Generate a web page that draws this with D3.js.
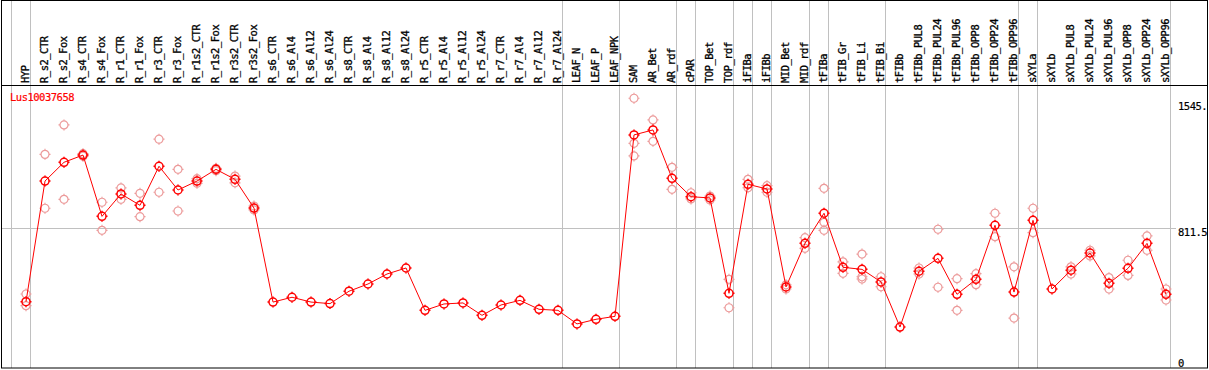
<!DOCTYPE html>
<html>
<head>
<meta charset="utf-8">
<script src="https://cdn.jsdelivr.net/npm/d3@7"></script>
<style>
  body { margin: 0; background: #fff; }
  text { font-family: "DejaVu Sans Mono", monospace; }
</style>
</head>
<body>
<div id="chart"></div>
<script>
// sample names along the x axis
const samples = ['HYP', 'R_s2_CTR', 'R_s2_Fox', 'R_s4_CTR', 'R_s4_Fox', 'R_r1_CTR', 'R_r1_Fox',
  'R_r3_CTR', 'R_r3_Fox', 'R_r1s2_CTR', 'R_r1s2_Fox', 'R_r3s2_CTR', 'R_r3s2_Fox',
  'R_s6_CTR', 'R_s6_Al4', 'R_s6_Al12', 'R_s6_Al24', 'R_s8_CTR', 'R_s8_Al4', 'R_s8_Al12', 'R_s8_Al24',
  'R_r5_CTR', 'R_r5_Al4', 'R_r5_Al12', 'R_r5_Al24', 'R_r7_CTR', 'R_r7_Al4', 'R_r7_Al12', 'R_r7_Al24',
  'LEAF_N', 'LEAF_P', 'LEAF_NPK', 'SAM', 'AR_Bet', 'AR_rdf', 'cPAR', 'TOP_Bet', 'TOP_rdf',
  'iFIBa', 'iFIBb', 'MID_Bet', 'MID_rdf', 'tFIBa', 'tFIB_Gr', 'tFIB_Li', 'tFIB_Bi', 'tFIBb',
  'tFIBb_PUL8', 'tFIBb_PUL24', 'tFIBb_PUL96', 'tFIBb_OPP8', 'tFIBb_OPP24', 'tFIBb_OPP96',
  'sXYLa', 'sXYLb', 'sXYLb_PUL8', 'sXYLb_PUL24', 'sXYLb_PUL96', 'sXYLb_OPP8', 'sXYLb_OPP24', 'sXYLb_OPP96'];

// mean expression per sample
const means = [385, 1086, 1195, 1237, 881, 1011, 945, 1172, 1034, 1086, 1154, 1096, 929,
  383, 411, 383, 374, 446, 488, 546, 581,
  335, 372, 378, 306, 366, 393, 341, 335,
  256, 283, 300, 1354, 1383, 1102, 995, 988, 434,
  1067, 1040, 471, 724, 899, 585, 573, 500, 238,
  562, 637, 428, 515, 829, 441,
  858, 459, 568, 668, 492, 579, 724, 428];

// individual replicates per sample (empty when none shown)
const replicates = [[430, 362], [1241, 928], [1412, 980], [1230, 1245], [963, 800], [1046, 980], [1015, 879],
  [1329, 1021], [1154, 912], [1100, 1073], [1160, 1146], [1115, 1076], [941, 918],
  [], [], [], [], [], [], [], [],
  [], [], [], [], [], [], [], [],
  [], [], [], [1567, 1305, 1232], [1441, 1317], [1166, 1038], [1018, 982], [976, 999], [515, 350],
  [1096, 1047], [1059, 1021], [483, 459], [757, 695], [1044, 846, 800], [617, 550], [662, 530, 517], [530, 472], [],
  [581, 546], [806, 469], [519, 335], [548, 484], [899, 763], [588, 290],
  [928, 786], [], [588, 546], [684, 651], [525, 459], [626, 538], [767, 684], [459, 395]];

// group separators drawn after these samples
const groupEnds = ['HYP', 'R_r7_Al24', 'LEAF_NPK', 'AR_rdf', 'cPAR', 'TOP_rdf', 'iFIBa', 'iFIBb',
  'MID_rdf', 'tFIBa', 'tFIB_Bi', 'tFIBb_OPP96', 'sXYLa', 'sXYLb_OPP96'];

const axisTicks = [0, 811.5, 1545];
const geneName = 'Lus10037658';

const W = 1209, H = 370;
const plotTop = 85, plotBottom = 368, left = 1.5, right = 1207.5;

const svg = d3.select('#chart').append('svg')
  .attr('width', W).attr('height', H);

const x = d3.scalePoint().domain(samples).range([26, 1166]);
const y = d3.scaleLinear().domain([0, 1644]).range([plotBottom, plotTop]);

// gridline
svg.append('line')
  .attr('x1', left).attr('x2', 1176)
  .attr('y1', Math.round(y(811.5)) + 0.5).attr('y2', Math.round(y(811.5)) + 0.5)
  .attr('stroke', '#c0c0c0');

// separators
const sepX = [x(samples[0]) - 15].concat(groupEnds.map(d => x(d) + 4));
svg.selectAll('.sep').data(sepX).enter().append('line')
  .attr('class', 'sep')
  .attr('x1', d => Math.round(d) + 0.5).attr('x2', d => Math.round(d) + 0.5)
  .attr('y1', 0).attr('y2', plotBottom)
  .attr('stroke', '#c0c0c0');

// frame
svg.append('rect')
  .attr('x', left).attr('y', 0.5)
  .attr('width', right - left).attr('height', plotBottom - 0.5)
  .attr('fill', 'none').attr('stroke', '#000');
svg.append('line')
  .attr('x1', left).attr('x2', right)
  .attr('y1', plotTop + 0.5).attr('y2', plotTop + 0.5)
  .attr('stroke', '#000');

// sample labels
svg.selectAll('.lab').data(samples).enter().append('text')
  .attr('class', 'lab')
  .attr('transform', d => `translate(${x(d) + 3},83) rotate(-90)`)
  .style('font-size', '10.5px')
  .style('letter-spacing', '-0.5px')
  .attr('fill', '#000')
  .attr('stroke', '#000')
  .attr('stroke-width', 0.3)
  .text(d => d);

// right axis
const yAxis = d3.axisRight(y).tickValues(axisTicks).tickSize(0)
  .tickFormat(d => d === 1545 ? '1545.' : d === 811.5 ? '811.5' : '0');
const ax = svg.append('g').attr('transform', 'translate(1176,0)').call(yAxis);
ax.select('.domain').remove();
ax.selectAll('text')
  .attr('x', 2)
  .attr('dy', null)
  .attr('y', d => d === 0 ? -2 : 7)
  .style('font-size', '10.5px')
  .style('letter-spacing', '-0.5px')
  .attr('fill', '#000')
  .attr('stroke', '#000')
  .attr('stroke-width', 0.2)
  .attr('font-family', '"DejaVu Sans Mono", monospace');

svg.append('text')
  .attr('x', 10).attr('y', 101)
  .style('font-size', '10.5px')
  .style('letter-spacing', '-0.5px')
  .attr('fill', '#ff0000')
  .attr('stroke', '#ff0000')
  .attr('stroke-width', 0.2)
  .text(geneName);

function marker(r) {
  const p = d3.path();
  p.moveTo(r, 0); p.arc(0, 0, r, 0, Math.PI * 2);
  p.moveTo(0, -r); p.lineTo(0, -r - 1.5);
  p.moveTo(0, r); p.lineTo(0, r + 1.5);
  p.moveTo(-r, 0); p.lineTo(-r - 1.5, 0);
  p.moveTo(r, 0); p.lineTo(r + 1.5, 0);
  return p.toString();
}

// replicates
const repPts = [];
samples.forEach((s, i) => replicates[i].forEach(v => repPts.push({ s, v })));
svg.selectAll('.rep').data(repPts).enter().append('path')
  .attr('class', 'rep')
  .attr('transform', d => `translate(${x(d.s)},${y(d.v)})`)
  .attr('d', marker(4))
  .attr('fill', 'none')
  .attr('stroke', '#ec9a9a')
  .attr('stroke-width', 1.2);

// mean line
const line = d3.line().x((d, i) => x(samples[i])).y(d => y(d));
svg.append('path')
  .datum(means)
  .attr('d', line)
  .attr('fill', 'none')
  .attr('stroke', '#ff0000')
  .attr('stroke-width', 1);

svg.selectAll('.pt').data(means).enter().append('path')
  .attr('class', 'pt')
  .attr('transform', (d, i) => `translate(${x(samples[i])},${y(d)})`)
  .attr('d', marker(4))
  .attr('fill', 'none')
  .attr('stroke', '#ff0000')
  .attr('stroke-width', 1.5);
</script>
</body>
</html>
